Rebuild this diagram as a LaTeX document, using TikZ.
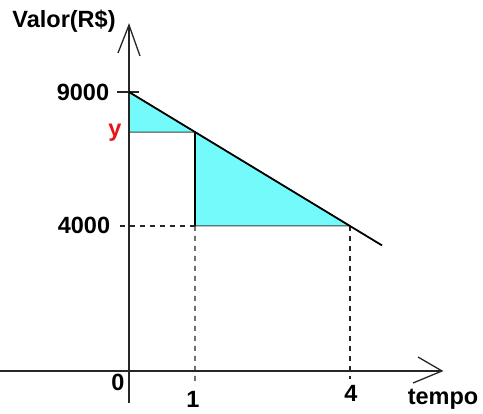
\documentclass[tikz,border=0pt]{standalone}
\usepackage{fontspec}
\usetikzlibrary{calc}
\setmainfont{Liberation Sans}
\definecolor{ciano}{RGB}{115,250,250}
\definecolor{vermelho}{RGB}{235,20,20}
\begin{document}
\begin{tikzpicture}[x=1pt,y=-1pt,
  lbl/.style={font=\fontsize{23.5}{26}\selectfont\bfseries,inner sep=0pt},
  eixo/.style={line width=1.3pt,black!85},
  guia/.style={dash pattern=on 5pt off 5pt,line width=1.1pt,black!85},
  area/.style={fill=ciano,draw=black!75,line width=1pt}]
\useasboundingbox[fill=white] (0,0) rectangle (483,414);
% pontos do grafico
\coordinate (O) at (129,371);
\coordinate (A) at (129,92);
\coordinate (B) at (350,226);
\coordinate (P) at ($(A)!0.2986!(B)$);
\coordinate (Y) at (A|-P);
\coordinate (Q) at (P|-B);
\coordinate (F) at ($(A)!1.145!(B)$);
\coordinate (Q4) at (120,226);
\coordinate (T1) at (195,386);
\coordinate (T4) at (350,379);
% eixos
\coordinate (ybase) at (129,403);
\coordinate (ytopo) at (129,25);
\coordinate (ya) at (118,53);
\coordinate (yb) at (140,56);
\coordinate (xbase) at (0,371);
\coordinate (xtopo) at (442,371);
\coordinate (xa) at (418,357);
\coordinate (xb) at (413,383);
\coordinate (m1) at (117,92);
\coordinate (m2) at (139,92);
% areas
\draw[area] (A) -- (P) -- (Y) -- cycle;
\draw[area] (P) -- (B) -- (Q) -- cycle;
\draw[line width=2pt] (P) -- (Q);
% linhas tracejadas
\draw[guia] (Q4) -- (Q);
\draw[guia] (Q) -- (T1);
\draw[guia] (B) -- (T4);
% eixos e setas
\draw[eixo] (ybase) -- (ytopo);
\draw[eixo] (ya) -- (ytopo) -- (yb);
\draw[eixo] (xbase) -- (xtopo);
\draw[eixo] (xa) -- (xtopo) -- (xb);
\draw[eixo] (m1) -- (m2);
% reta
\draw[line width=1.8pt] (A) -- (F);
% rotulos
\node[lbl] (valor) at (64,21) {Valor(R\$)};
\node[lbl] (v9000) at (83,92) {9000};
\node[lbl] (v4000) at (84,225) {4000};
\node[lbl,text=vermelho] (vy) at (115,133) {y};
\node[lbl] (t0) at (118,382) {0};
\node[lbl] (t1) at (193,399) {1};
\node[lbl] (t4) at (351,393) {4};
\node[lbl] (tempo) at (443,399) {tempo};
\end{tikzpicture}
\end{document}
